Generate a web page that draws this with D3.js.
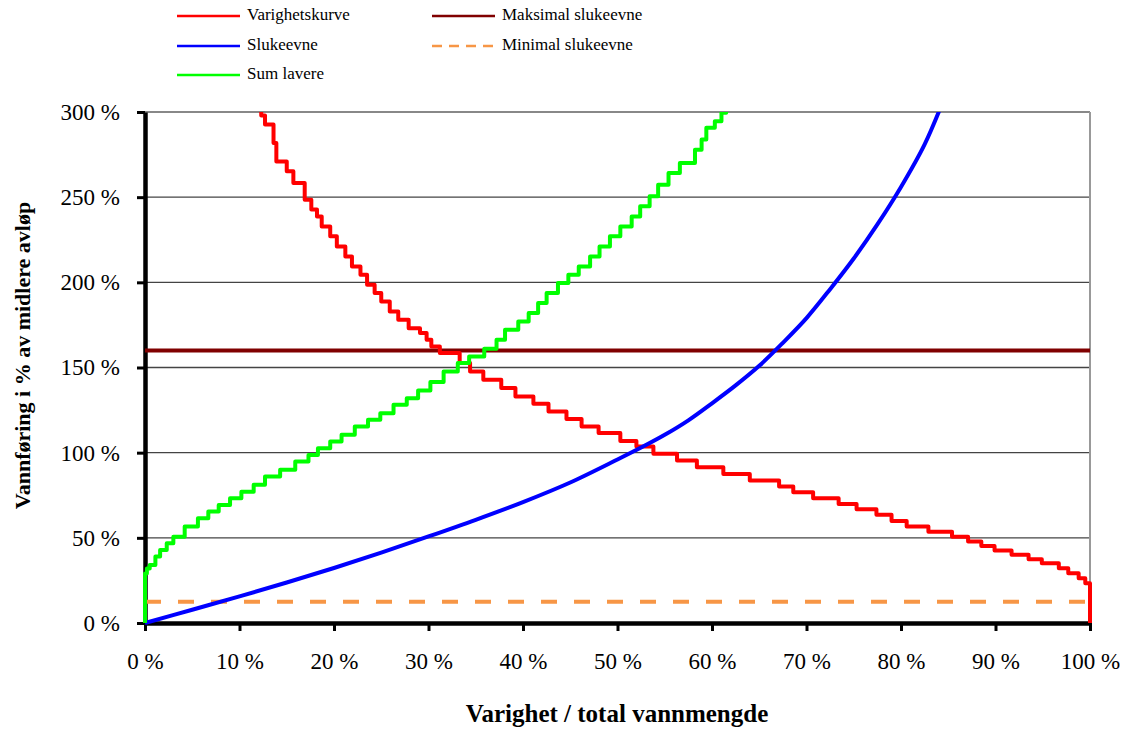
<!DOCTYPE html>
<html><head><meta charset="utf-8">
<script src="https://cdn.jsdelivr.net/npm/d3@7"></script>
<style>body{margin:0;background:#fff} svg text{font-family:"Liberation Serif","DejaVu Serif",serif;}</style>
</head><body>
<svg id="chart" width="1129" height="729"></svg>
<script>
// ---------- data ----------
const yTicks = [0, 50, 100, 150, 200, 250, 300];
const xTicks = [0, 10, 20, 30, 40, 50, 60, 70, 80, 90, 100];

// Varighetskurve (duration curve): start of each step (x %, y %)
const durX = [11.7, 12.3, 12.7, 13.6, 13.9, 15.0, 15.7, 16.9, 17.6, 18.2, 18.7, 19.6, 20.3, 21.2, 21.9, 22.8, 23.5, 24.3, 25.0, 25.9, 26.8, 27.9, 29.1, 29.8, 30.3, 31.2, 33.3, 34.4, 35.8, 37.7, 39.2, 41.1, 42.7, 44.6, 46.2, 48.0, 50.3, 52.0, 53.8, 56.3, 58.4, 61.2, 64.0, 67.1, 68.6, 70.7, 73.4, 75.3, 77.4, 79.0, 80.6, 82.9, 85.4, 87.1, 88.5, 89.9, 91.7, 93.5, 94.9, 96.7, 97.7, 98.8, 99.5, 100];
const durY = [306, 298, 292.6, 281.8, 271, 265.2, 258.3, 248.5, 242.7, 238.7, 232.8, 227, 221, 215.2, 209.3, 204.5, 198.6, 193.7, 188.8, 182.9, 178, 173.1, 170.2, 166.3, 162.3, 158.5, 152.6, 147.6, 142.8, 137.9, 133, 128.7, 124.2, 119.7, 115.3, 111.5, 106.9, 103.6, 99.3, 95.4, 91.5, 87.5, 83.6, 80.1, 76.8, 73.3, 69.9, 66.8, 63.5, 59.9, 56.6, 53.6, 50.7, 47.8, 45.2, 42.5, 40.0, 37.4, 35.1, 32.1, 29.2, 26.3, 23.3, 0];

// Sum lavere: start of each step (x %, y %)
const sumX = [0, 0, 0.2, 0.5, 1.1, 1.6, 2.3, 3.0, 4.2, 5.6, 6.7, 7.8, 9.0, 10.2, 11.5, 12.7, 14.3, 15.9, 17.3, 18.3, 19.6, 20.8, 22.2, 23.6, 24.9, 26.3, 27.7, 28.9, 30.2, 31.6, 33.1, 34.3, 35.9, 37.2, 38.1, 39.5, 40.6, 41.6, 42.5, 43.7, 44.8, 45.9, 47.1, 48.1, 49.2, 50.3, 51.5, 52.4, 53.4, 54.3, 55.4, 56.6, 58.2, 58.9, 59.4, 60.3, 61.0, 61.5];
const sumY = [0, 29, 32, 34.1, 39, 42.9, 46.8, 50.7, 56.6, 61.5, 65.4, 69.3, 73.3, 77.1, 81.1, 86, 89.9, 94.8, 98.7, 102.6, 106.5, 110.5, 115.3, 119.3, 123.2, 128.1, 132, 136.5, 141.5, 147.6, 152.6, 156.5, 161, 166.3, 172.1, 177, 182, 187.8, 193.7, 199.6, 204.5, 209.3, 215.2, 221.1, 227, 232.8, 238.7, 244.6, 250.5, 257.3, 264.2, 270.1, 277.9, 283.8, 290.7, 294.6, 299.5, 306];

// Slukeevne (smooth)
const capX = [0, 5, 10, 15, 20, 25, 30, 35, 40, 45, 50, 52.5, 55, 57.5, 60, 62.5, 65, 67.5, 70, 72.5, 75, 77.5, 80, 82.5, 84.5];
const capY = [0, 7.8, 15.6, 23.8, 32.3, 41.3, 50.8, 60.6, 71, 82.5, 96, 103, 110.5, 119, 129, 139.5, 151, 164.5, 179, 196, 214, 234, 256, 281, 307];

const maxCapacity = 160;   // Maksimal slukeevne
const minCapacity = 12.5;  // Minimal slukeevne

const legendNames = ["Varighetskurve", "Slukeevne", "Sum lavere", "Maksimal slukeevne", "Minimal slukeevne"];
const legendColors = ["#ff0000", "#0000ff", "#00ff00", "#800000", "#f79646"];

// ---------- drawing ----------
const svg = d3.select("#chart");
const W = 1129, H = 729;
const m = {left: 145, right: 39, top: 112, bottom: 106};
const x = d3.scaleLinear().domain([0, 100]).range([m.left, W - m.right]);
const y = d3.scaleLinear().domain([0, 300]).range([H - m.bottom, m.top]);
const serif = "\"Liberation Serif\", \"DejaVu Serif\", serif";

svg.append("rect").attr("width", W).attr("height", H).attr("fill", "#fff");

svg.append("defs").append("clipPath").attr("id", "plot")
  .append("rect").attr("x", x(0) - 3).attr("y", y(300)).attr("width", x(100) - x(0) + 6).attr("height", y(0) - y(300) + 2);

// gridlines
svg.append("g").selectAll("line").data(yTicks.filter(d => d > 0)).join("line")
  .attr("x1", x(0)).attr("x2", x(100))
  .attr("y1", d => y(d)).attr("y2", d => y(d))
  .attr("stroke", d => d === 300 ? "#888" : "#444")
  .attr("stroke-width", d => d === 300 ? 2 : 1.3);
// right border
svg.append("line").attr("x1", x(100)).attr("x2", x(100)).attr("y1", y(300)).attr("y2", y(0))
  .attr("stroke", "#999").attr("stroke-width", 2);

// axes
const yAxis = d3.axisLeft(y).tickValues(yTicks).tickSize(8).tickSizeOuter(0).tickPadding(17)
  .tickFormat(d => d + "\u00a0%");
const xAxis = d3.axisBottom(x).tickValues(xTicks).tickSize(8).tickSizeOuter(0).tickPadding(22)
  .tickFormat(d => d + "\u00a0%");

const gy = svg.append("g").attr("transform", `translate(${x(0)},0)`).call(yAxis);
const gx = svg.append("g").attr("transform", `translate(0,${y(0)})`).call(xAxis);
[gy, gx].forEach(g => {
  g.attr("font-family", null);
  g.select(".domain").attr("stroke", "#000").attr("stroke-width", 4.5);
  g.selectAll(".tick line").attr("stroke", "#000").attr("stroke-width", 3);
  g.selectAll(".tick text").style("font-family", serif).style("font-size", "23px").attr("fill", "#000");
});

// axis titles
svg.append("text").attr("transform", `translate(25,${(y(0) + y(300)) / 2 - 12}) rotate(-90)`)
  .attr("text-anchor", "middle").attr("dominant-baseline", "middle")
  .style("font-family", serif).style("font-weight", "bold").style("font-size", "22px")
  .text("Vannføring i % av midlere avløp");
svg.append("text").attr("x", 617).attr("y", 722).attr("text-anchor", "middle")
  .style("font-family", serif).style("font-weight", "bold").style("font-size", "25px")
  .text("Varighet / total vannmengde");

// series
const plot = svg.append("g").attr("clip-path", "url(#plot)");

plot.append("line").attr("x1", x(0)).attr("x2", x(100))
  .attr("y1", y(minCapacity)).attr("y2", y(minCapacity))
  .attr("stroke", legendColors[4]).attr("stroke-width", 4).attr("stroke-dasharray", "16,17");
plot.append("line").attr("x1", x(0)).attr("x2", x(100))
  .attr("y1", y(maxCapacity)).attr("y2", y(maxCapacity))
  .attr("stroke", legendColors[3]).attr("stroke-width", 4);

const stepLine = d3.line().x(d => x(d[0])).y(d => y(d[1])).curve(d3.curveStepAfter);
const smoothLine = d3.line().x(d => x(d[0])).y(d => y(d[1])).curve(d3.curveCatmullRom.alpha(0.5));

plot.append("path").datum(durX.map((v, i) => [v, durY[i]])).attr("d", stepLine)
  .attr("fill", "none").attr("stroke", legendColors[0]).attr("stroke-width", 4).attr("stroke-linejoin", "round");
plot.append("path").datum(capX.map((v, i) => [v, capY[i]])).attr("d", smoothLine)
  .attr("fill", "none").attr("stroke", legendColors[1]).attr("stroke-width", 4);
plot.append("path").datum(sumX.map((v, i) => [v, sumY[i]])).attr("d", stepLine)
  .attr("fill", "none").attr("stroke", legendColors[2]).attr("stroke-width", 4).attr("stroke-linejoin", "round");

// legend
const legPos = [[177, 16], [177, 46], [177, 75], [432, 16], [432, 46]];
const leg = svg.append("g").selectAll("g").data(legendNames).join("g")
  .attr("transform", (d, i) => `translate(${legPos[i][0]},${legPos[i][1]})`);
leg.append("line").attr("x1", 0).attr("x2", 63).attr("y1", 0).attr("y2", 0)
  .attr("stroke", (d, i) => legendColors[i]).attr("stroke-width", 2.5)
  .attr("stroke-dasharray", (d, i) => i === 4 ? "10,7" : null);
leg.append("text").attr("x", 70).attr("y", 0).attr("dominant-baseline", "middle")
  .style("font-family", serif).style("font-size", "17px").attr("fill", "#000").text(d => d);
</script>
</body></html>
